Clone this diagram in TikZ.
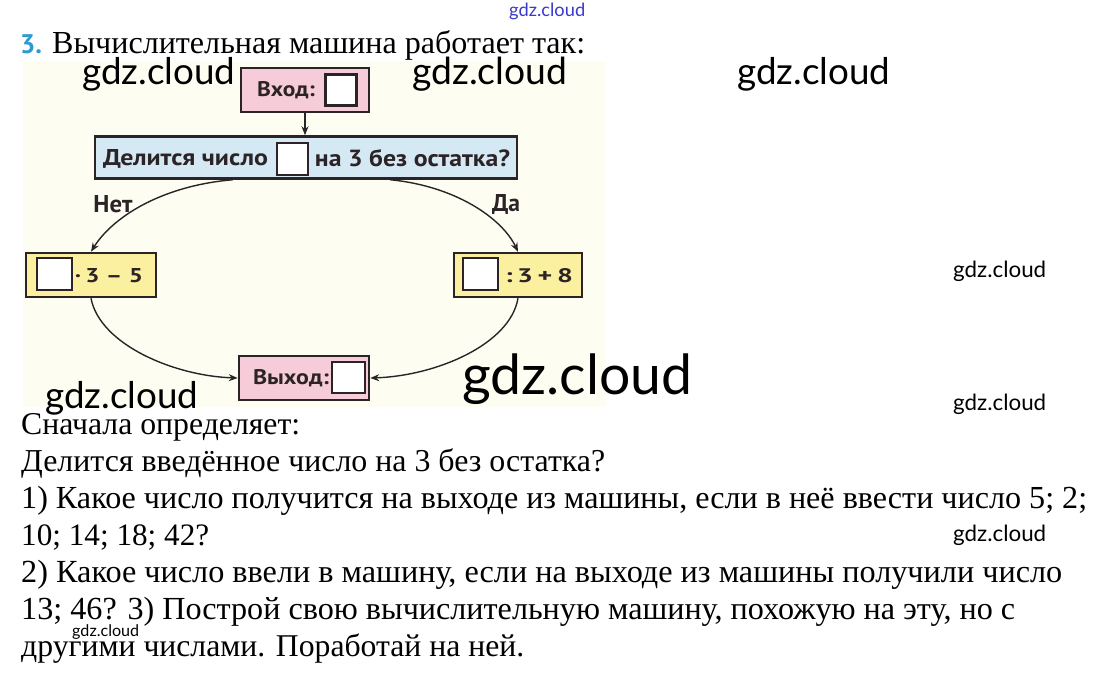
\documentclass[tikz,border=0pt]{standalone}
\usepackage{fontspec}
\setmainfont{Liberation Serif}
\newfontfamily\ptsans{PT Sans}
\newfontfamily\lato{Lato}
\usetikzlibrary{arrows.meta}
\definecolor{pinkf}{HTML}{F5CCD8}
\definecolor{bluef}{HTML}{D5E9F5}
\definecolor{yellowf}{HTML}{FAF0A0}
\definecolor{bordc}{HTML}{2B2326}
\definecolor{creamf}{HTML}{FEFDF2}
\definecolor{numblue}{HTML}{2E9BD0}
\definecolor{wmblue}{HTML}{3A3AD0}
\newcommand\fitlbl[3]{\resizebox{#1}{#2}{#3}}
\tikzset{
  box/.style={draw=bordc, line width=2.5bp, inner sep=0pt, minimum height=44bp},
  sq/.style={draw=bordc, fill=white, line width=2.2bp, inner sep=0pt},
  lbl/.style={font=\ptsans\bfseries\fontsize{21}{21}\selectfont, text=bordc, inner sep=0pt},
  wm/.style={anchor=base west, inner sep=0pt, font=\lato},
  body/.style={anchor=base west, inner sep=0pt, font=\fontsize{28}{28}\selectfont},
  conn/.style={line width=1.4bp, draw=black!85, -{Stealth[length=9bp,width=7bp]}}
}
\begin{document}
\begin{tikzpicture}[x=1bp,y=-1bp]
\useasboundingbox (0,0) rectangle (1094,675);
\fill[white] (0,0) rectangle (1094,675);
\fill[creamf] (23,62) rectangle (606,407);

% title
\node[anchor=base west, inner sep=0pt, text=numblue, font=\ptsans\bfseries\fontsize{27}{27}\selectfont] (num) at (20,54) {3.};
\node[body] (title) at (52,54) {\resizebox{533bp}{!}{Вычислительная машина работает так:}};

% diagram
\node[box, fill=pinkf, minimum width=128bp] (in) at (305,90) {};
\node[lbl] (inT) at (286,90) {\fitlbl{58bp}{15bp}{Вход:}};
\node[sq, minimum width=31bp, minimum height=31bp] (inS) at (341,90) {};

\node[box, fill=bluef, minimum width=422bp, minimum height=42bp] (q) at (306,157.5) {};
\node[lbl] (qT1) at (185.5,159) {\fitlbl{165bp}{16bp}{Делится число}};
\node[sq, minimum width=31bp, minimum height=32bp] (qS) at (292.5,159) {};
\node[lbl] (qT2) at (412.5,158) {\fitlbl{195bp}{17bp}{на 3 без остатка?}};

\node[box, fill=yellowf, minimum width=130bp] (L) at (91,275) {};
\node[sq, minimum width=35bp, minimum height=32bp] (LS) at (54.5,274) {};
\node[lbl] (LT) at (109,276) {\fitlbl{68bp}{14bp}{·\,3 – 5}};

\node[box, fill=yellowf, minimum width=128bp] (R) at (518,275) {};
\node[sq, minimum width=35bp, minimum height=32bp] (RS) at (480.5,274) {};
\node[lbl] (RT) at (539,276) {\fitlbl{68bp}{14bp}{:\,3\,+\,8}};

\node[box, fill=pinkf, minimum width=130bp] (out) at (304,378) {};
\node[lbl] (outT) at (291,378) {\fitlbl{76bp}{15bp}{Выход:}};
\node[sq, minimum width=33bp, minimum height=31bp] (outS) at (348.5,377.5) {};

\draw[conn] (in.south) -- (in.south |- q.north);
\draw[conn] ([xshift=139bp]q.south west) .. controls (160,186) and (112,218) .. (L.north);
\draw[conn] ([xshift=-128bp]q.south east) .. controls (455,186) and (502,218) .. (R.north);
\draw[conn] (L.south) .. controls (100,345) and (175,376) .. (out.west);
\draw[conn] (R.south) .. controls (510,345) and (435,376) .. (out.east);

\node[lbl] (no) at (113,204) {\fitlbl{39bp}{17bp}{Нет}};
\node[lbl] (yes) at (506,205) {\fitlbl{28bp}{17bp}{Да}};

% body text
\node[body] (t1) at (21,434) {\resizebox{279bp}{!}{Сначала определяет:}};
\node[body] (t2) at (21,471) {\resizebox{584bp}{!}{Делится введённое число на 3 без остатка?}};
\node[body] (t3) at (21,508) {\resizebox{1066bp}{!}{1) Какое число получится на выходе из машины, если в неё ввести число 5; 2;}};
\node[body] (t4) at (21,545) {\resizebox{188bp}{!}{10; 14; 18; 42?}};
\node[body] (t5) at (21,582) {\resizebox{1041bp}{!}{2) Какое число ввели в машину, если на выходе из машины получили число}};
\node[body] (t6) at (21,619) {\resizebox{994bp}{!}{13; 46? 3) Построй свою вычислительную машину, похожую на эту, но с}};
\node[body] (t7) at (21,656) {\resizebox{503bp}{!}{другими числами. Поработай на ней.}};

% watermarks
\node[wm, text=wmblue] (w0) at (509,17) {\resizebox{76bp}{!}{gdz.cloud}};
\node[wm] (w1) at (82,85) {\resizebox{153bp}{!}{gdz.cloud}};
\node[wm] (w2) at (412,85) {\resizebox{155bp}{!}{gdz.cloud}};
\node[wm] (w3) at (737,85) {\resizebox{153bp}{!}{gdz.cloud}};
\node[wm] (w4) at (953,277) {\resizebox{93bp}{!}{gdz.cloud}};
\node[wm] (w5) at (462,394) {\resizebox{230bp}{!}{gdz.cloud}};
\node[wm] (w6) at (45,408) {\resizebox{153bp}{!}{gdz.cloud}};
\node[wm] (w7) at (953,410) {\resizebox{93bp}{!}{gdz.cloud}};
\node[wm] (w8) at (953,541) {\resizebox{93bp}{!}{gdz.cloud}};
\node[wm] (w9) at (72,636) {\resizebox{67bp}{!}{gdz.cloud}};
\end{tikzpicture}
\end{document}
